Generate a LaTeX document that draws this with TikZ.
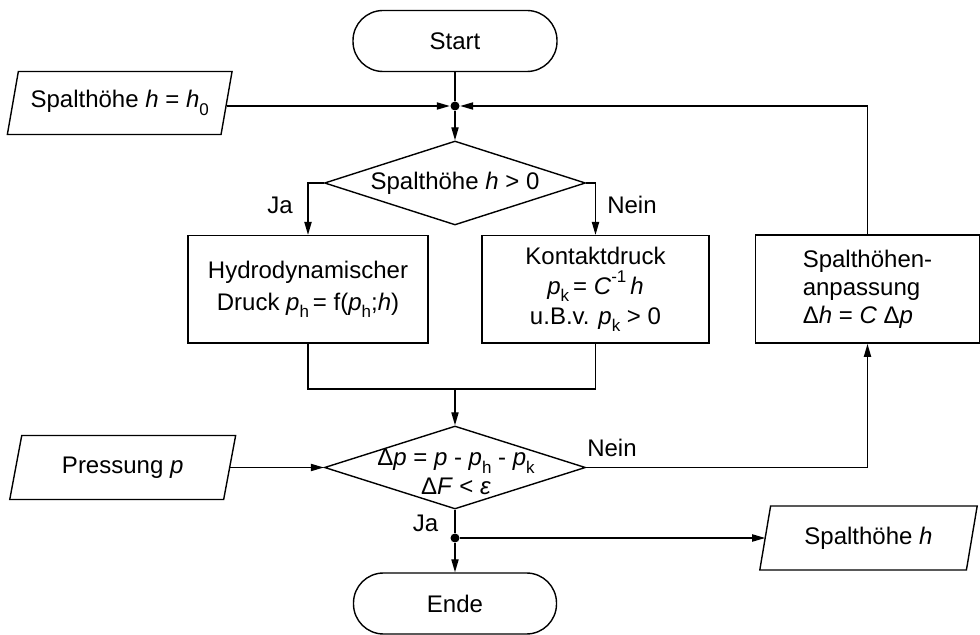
\documentclass[tikz,border=0pt]{standalone}
\usepackage{fontspec}
\setmainfont{Liberation Sans}
\usetikzlibrary{arrows.meta,shapes.geometric}
\newcommand\vi[1]{\textit{#1}}
\newcommand\lsub[1]{\raisebox{-0.6ex}{\fontsize{8.5bp}{8.5bp}\selectfont #1}}
\newcommand\hsup[1]{\raisebox{0.9ex}{\fontsize{8.5bp}{8.5bp}\selectfont #1}}
\newcommand\paral[2]{\draw ([xshift=#2]#1.north west) -- ([xshift=#2]#1.north east) -- ([xshift=-#2]#1.south east) -- ([xshift=-#2]#1.south west) -- cycle;}
\begin{document}
\begin{tikzpicture}[x=0.5bp,y=-0.5bp, line width=0.7bp,
  every node/.style={font=\fontsize{12bp}{14.5bp}\selectfont},
  arr/.style={-{Triangle[length=6.5bp,width=3.6bp]}},
  term/.style={draw, rectangle, rounded corners=15bp, minimum width=102bp, minimum height=30.5bp, inner sep=0},
  proc/.style={draw, rectangle, minimum height=53.7bp, inner sep=0, align=center},
  dia/.style={draw, diamond, minimum width=130.5bp, minimum height=42bp, inner sep=0},
  iotext/.style={inner sep=0, outer sep=0, minimum height=32bp},
  lbl/.style={inner sep=0},
  dot/.style={circle, fill, inner sep=0, minimum size=4.5bp}
]
\useasboundingbox (0,0) rectangle (980,635);

% nodes
\node[term] (start) at (455,41) {Start};
\node[dot] (j1) at (455,106) {};
\node[iotext, minimum width=106.85bp, minimum height=31.5bp] (in1) at (119.7,103) {Spalthöhe \vi{h} = \vi{h}\lsub{0}};
\paral{in1}{2.75bp}
\node[dia] (d1) at (455,183) {};
\node[inner sep=0] (d1t) at (d1) {Spalthöhe \vi{h} > 0};
\node[lbl] (ja1) at (280,205) {Ja};
\node[lbl] (nein1) at (632,205) {Nein};

\node[proc, minimum width=120bp, font=\fontsize{12bp}{16bp}\selectfont] (hydro) at (308,289.3)
  {Hydrodynamischer\\Druck \vi{p}\lsub{h}\,= f(\vi{p}\lsub{h};\vi{h})};
\node[proc, minimum width=113.5bp, font=\fontsize{12bp}{15bp}\selectfont] (kontakt) at (595.5,289.3)
  {Kontaktdruck\\\vi{p}\lsub{k}\,= \vi{C}\hsup{-1}\,\vi{h}\\u.B.v. \vi{p}\lsub{k} > 0};
\node[proc, minimum width=111.8bp, minimum height=54bp, align=left, font=\fontsize{12bp}{14bp}\selectfont] (anp) at (867.5,289.2)
  {Spalthöhen-\\anpassung\\Δ\vi{h} = \vi{C} Δ\vi{p}};

\coordinate (m) at (455,389);
\node[dia, minimum height=41.5bp] (d2) at (455,467.5) {};
\node[inner sep=0, align=center, font=\fontsize{12bp}{14.2bp}\selectfont] (d2t) at (456,472)
  {Δ\vi{p} = \vi{p} - \vi{p}\lsub{h} - \vi{p}\lsub{k}\\Δ\vi{F} < \vi{ε}};
\node[iotext, minimum width=106.95bp] (in2) at (122.7,467.5) {Pressung \vi{p}};
\paral{in2}{3bp}
\node[lbl] (nein2) at (612,448) {Nein};
\node[lbl] (ja2) at (425.5,523) {Ja};
\node[dot] (j2) at (455,538) {};
\node[iotext, minimum width=103.3bp] (out) at (868.5,538) {Spalthöhe \vi{h}};
\paral{out}{2.7bp}
\node[term, minimum width=101.5bp] (ende) at (455,603.5) {Ende};

% connectors
\draw (start) -- (j1);
\draw[arr] (in1.east |- j1) -- (j1);
\draw[arr] (anp.north) |- (j1);
\draw[arr] (j1) -- (d1.north);
\draw[arr] (d1.west) -| (hydro.north);
\draw[arr] (d1.east) -| (kontakt.north);
\draw (hydro.south) |- (m) -| (kontakt.south);
\draw[arr] (m) -- (d2.north);
\draw[arr] (in2.east) -- (d2.west);
\draw[arr] (d2.east) -| (anp.south);
\draw (d2.south) -- (j2);
\draw[arr] (j2) -- (ende.north);
\draw[arr] (j2) -- (out.west);
\end{tikzpicture}
\end{document}
